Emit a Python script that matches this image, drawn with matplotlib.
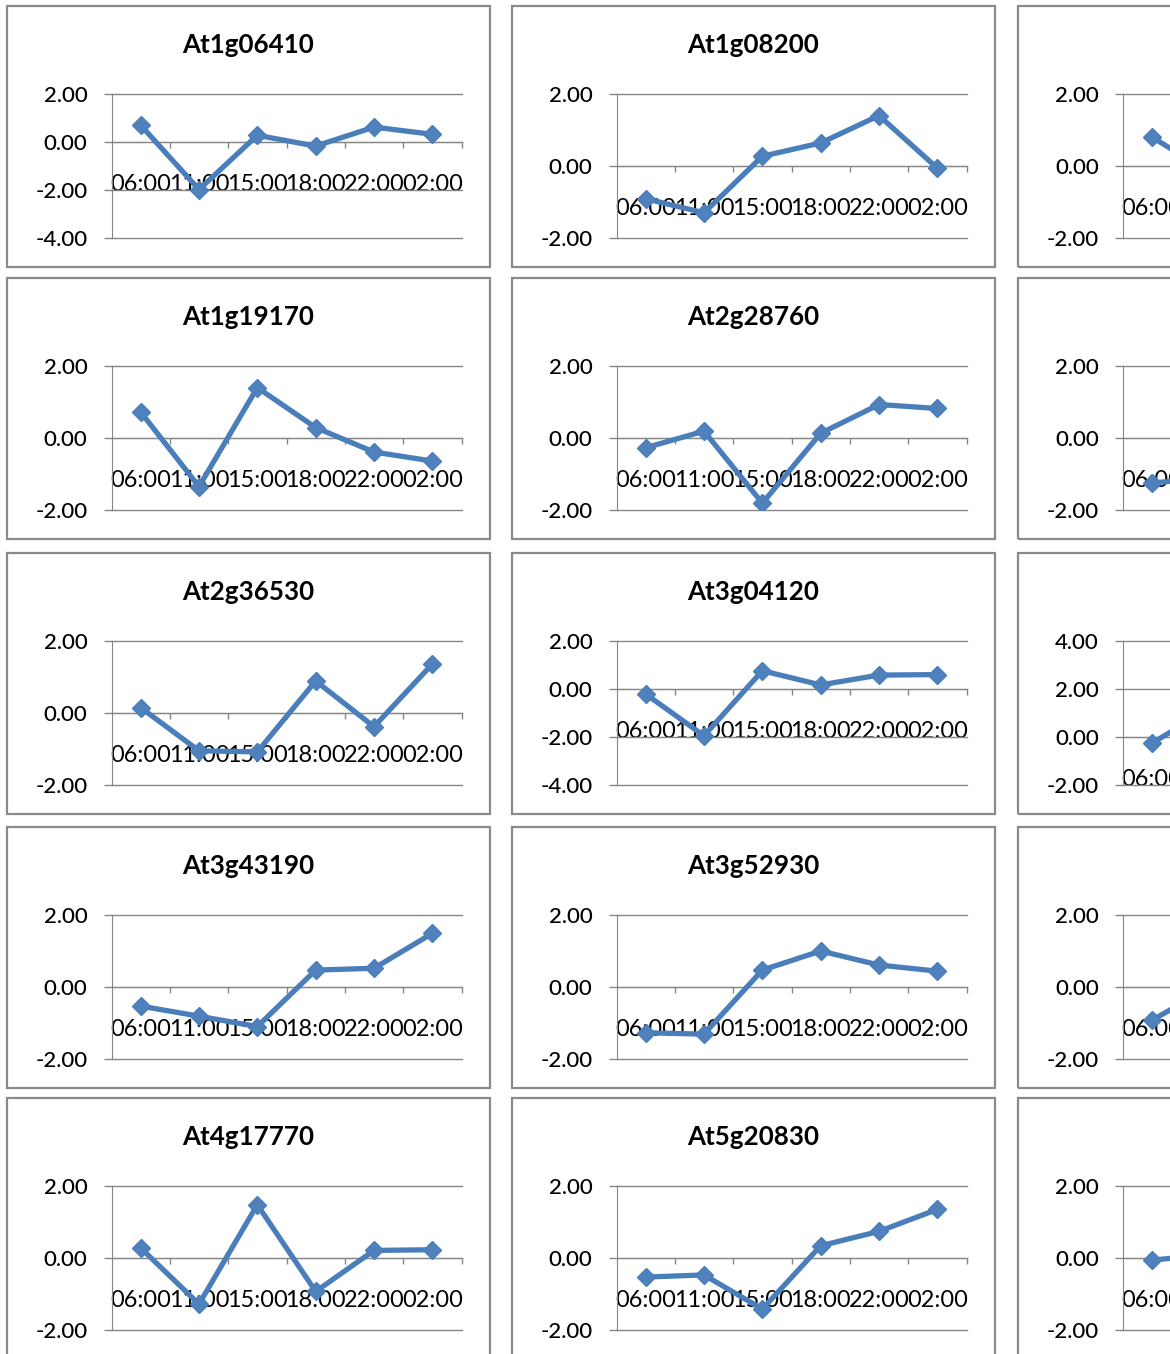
import matplotlib.pyplot as plt
import numpy as np
from matplotlib.patches import Rectangle

plt.rcParams["font.family"] = ["Lato", "DejaVu Sans"]

W, H = 1170, 1354

times = ["06:00", "11:00", "15:00", "18:00", "22:00", "02:00"]

# gene ids per grid row (third column runs off the sheet edge, names not shown)
genes = [
    ["At1g06410", "At1g08200", None],
    ["At1g19170", "At2g28760", None],
    ["At2g36530", "At3g04120", None],
    ["At3g43190", "At3g52930", None],
    ["At4g17770", "At5g20830", None],
]

# relative expression (log ratio) per time point
r1 = [[0.70, -1.98, 0.28, -0.17, 0.62, 0.32],
      [-0.91, -1.30, 0.27, 0.64, 1.40, -0.06],
      [0.80, -0.20]]
r2 = [[0.72, -1.35, 1.40, 0.29, -0.39, -0.64],
      [-0.27, 0.19, -1.81, 0.13, 0.93, 0.82],
      [-1.25, -1.10]]
r3 = [[0.15, -1.05, -1.08, 0.89, -0.38, 1.36],
      [-0.21, -1.95, 0.76, 0.17, 0.58, 0.60],
      [-0.25, 1.20]]
r4 = [[-0.53, -0.81, -1.10, 0.47, 0.52, 1.49],
      [-1.27, -1.31, 0.47, 1.00, 0.61, 0.44],
      [-0.92, 0.00]]
r5 = [[0.28, -1.28, 1.48, -0.93, 0.21, 0.23],
      [-0.53, -0.47, -1.42, 0.34, 0.74, 1.35],
      [-0.06, 0.10]]
expr = [r1, r2, r3, r4, r5]

ylims = [
    [(-4, 2), (-2, 2), (-2, 2)],
    [(-2, 2), (-2, 2), (-2, 2)],
    [(-2, 2), (-4, 2), (-2, 4)],
    [(-2, 2), (-2, 2), (-2, 2)],
    [(-2, 2), (-2, 2), (-2, 2)],
]

BLUE = "#4A7EBB"
GRID = "#868686"
BORDER = "#8a8a8a"

col_left = [6.5, 511.5, 1018]
row_top = [6, 278, 553, 827, 1098]
BOX_W, BOX_H = 483, 261


def fig_rect(x, y, w, h):
    return [x / W, 1 - (y + h) / H, w / W, h / H]


fig = plt.figure(figsize=(W / 100, H / 100), dpi=100, facecolor="white")

for i, top in enumerate(row_top):
    for j, left in enumerate(col_left):
        bx, by, bw, bh = fig_rect(left, top, BOX_W, BOX_H)
        fig.patches.append(Rectangle((bx, by), bw, bh, transform=fig.transFigure,
                                     fill=False, ec=BORDER, lw=1.6))
        title = genes[i][j]
        if title:
            fig.text((left + BOX_W / 2) / W, 1 - (top + 47) / H, title,
                     ha="center", va="baseline", fontsize=18.7, fontweight="bold")

        ax = fig.add_axes(fig_rect(left + 105, top + 88, 350, 144))
        lo, hi = ylims[i][j]
        vals = expr[i][j]
        ax.plot(range(len(vals)), vals, color=BLUE, lw=3.8, marker="D", ms=9.5,
                mfc="#4F81BD", mec=BLUE, mew=1, zorder=3)

        ax.set_xlim(-0.5, 5.5)
        ax.set_ylim(lo, hi)
        yt = np.arange(lo, hi + 1, 2)
        ax.set_yticks(yt)
        ax.set_yticklabels([f"{v:.2f}" for v in yt], fontweight="medium")
        ax.grid(axis="y", color=GRID, lw=1)
        for gl in ax.get_ygridlines():
            gl.set_clip_on(False)

        ax.set_xticks(np.arange(0.5, 6, 1))
        ax.set_xticklabels([])
        ax.set_xticks(range(6), minor=True)
        ax.set_xticklabels(times, minor=True, fontweight="medium")

        ax.tick_params(axis="y", direction="out", length=5.8, width=1, color=GRID,
                       pad=11.5, labelsize=16)
        ax.tick_params(axis="x", which="major", direction="out", length=4.3,
                       width=1, color=GRID)
        ax.tick_params(axis="x", which="minor", length=0, pad=23, labelsize=16.9)

        for side in ("top", "right"):
            ax.spines[side].set_visible(False)
        ax.spines["left"].set_color(GRID)
        ax.spines["bottom"].set_color(GRID)
        ax.spines["bottom"].set_position(("data", 0))
        ax.set_facecolor("none")

fig.savefig("out.png", dpi=100)
